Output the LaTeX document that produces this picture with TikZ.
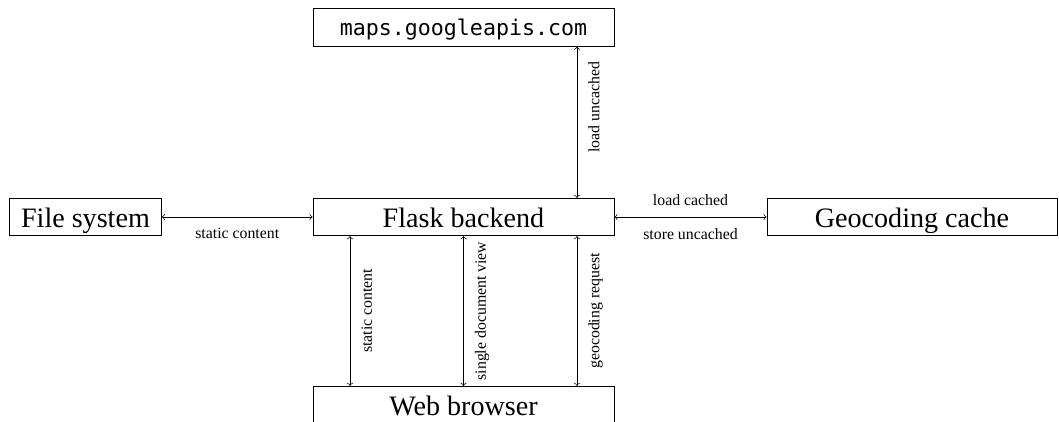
\documentclass[tikz,border=0pt]{standalone}
\usepackage{fontspec}
\setmainfont{Liberation Serif}
\setmonofont{DejaVu Sans Mono}
\usepackage{tikz}

\begin{document}
\begin{tikzpicture}[
    box/.style={draw, minimum height=0.75cm, inner sep=2pt, text height=14pt, text depth=2.6pt, font=\fontsize{16}{19}\selectfont},
    wide/.style={box, minimum width=6.02cm},
    lbl/.style={font=\fontsize{9}{11}\selectfont, inner sep=6.3pt},
    arr/.style={<->}
]
\useasboundingbox (-9.27,4.34) rectangle (11.91,-4.08);

\node[wide] (flask) at (0,0) {Flask backend};
\node[wide, text height=11pt, text depth=2.4pt, font=\fontsize{12.3}{15}\ttfamily] (maps) at (0,3.79) {maps.googleapis.com};
\node[box, minimum width=3.04cm] (fs) at (-7.56,0) {File system};
\node[box, minimum width=5.8cm] (geo) at (8.97,0) {Geocoding cache};
\node[wide] (web) at (0,-3.76) {Web browser};

\draw[arr] (fs) -- node[lbl, below] {static content} (flask);
\draw[arr] (flask) -- node[lbl, above] {load cached} node[lbl, below] {store uncached} (geo);
\draw[arr] ([xshift=2.27cm]flask.north) -- node[lbl, pos=0.6, below, sloped] {load uncached} ([xshift=2.27cm]maps.south);

\draw[arr] ([xshift=-2.27cm]web.north) -- node[lbl, below, sloped] {static content} ([xshift=-2.27cm]flask.south);
\draw[arr] (web.north) -- node[lbl, below, sloped] {single document view} (flask.south);
\draw[arr] ([xshift=2.27cm]web.north) -- node[lbl, below, sloped] {geocoding request} ([xshift=2.27cm]flask.south);
\end{tikzpicture}
\end{document}
